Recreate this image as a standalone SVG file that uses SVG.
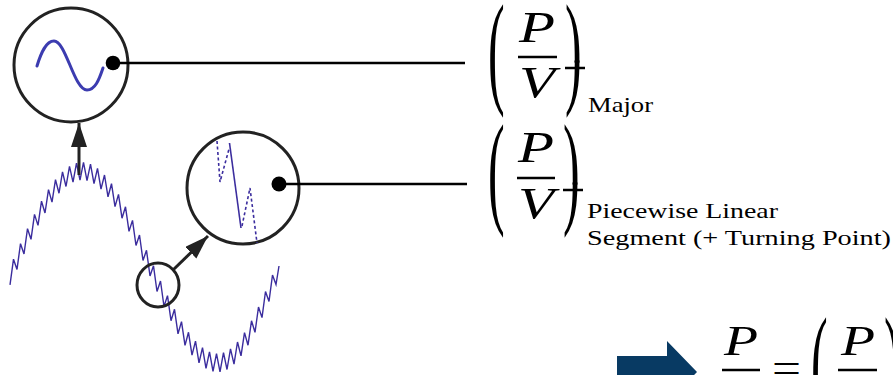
<svg xmlns="http://www.w3.org/2000/svg" width="893" height="375" viewBox="0 0 893 375">
<style>
.ring{fill:none;stroke:#222;stroke-width:3}
.dot{fill:#000}
.conn{stroke:#000;stroke-width:2.5;fill:none}
.arr{stroke:#222;stroke-width:3;fill:none}
.m{fill:#000}
.it{font-style:italic}
.bar{stroke:#000;stroke-width:2.5}
.wave{fill:none;stroke:#3b2d9e;stroke-width:1.4;stroke-linejoin:miter}
.dash{fill:none;stroke:#3b2d9e;stroke-width:1.6;stroke-dasharray:3 2.5}
</style>
<defs>
<marker id="ah" markerUnits="userSpaceOnUse" markerWidth="26" markerHeight="18" refX="24" refY="8" orient="auto">
<path d="M0,0 L24,8 L0,16 z" fill="#222"/>
</marker>
</defs>
<g id="signal">
<polyline class="wave" points="10,284.9 13.5,259.2 17,269.4 20.5,243.7 24,254 27.5,228.7 31,239.3 34.5,214.4 38,225.4 41.5,201.2 45,213 48.5,189.6 52,202.1 55.5,179.7 59,193.2 62.5,171.9 66,186.5 69.5,166.3 73,182.1 76.5,163.1 80,180.1 83.5,162.4 87,180.6 90.5,164.2 94,183.7 97.5,168.4 101,189.1 104.5,175 108,196.8 111.5,183.7 115,206.6 118.5,194.4 122,218.2 125.5,206.8 129,231.3 132.5,220.4 136,245.5 139.5,235 143,260.5 146.5,250.3 150,276 153.5,265.8 157,291.5 160.5,281 164,306.5 167.5,295.6 171,320.7 174.5,309.3 178,333.8 181.5,321.6 185,345.4 188.5,332.3 192,355.2 195.5,341.1 199,362.9 202.5,347.6 206,368.3 209.5,351.9 213,371.4 216.5,353.7 220,371.9 223.5,352.7 227,369.5 230.5,348.8 234,364.1 237.5,342 241,355.9 244.5,332.6 248,345.2 251.5,320.8 255,332.3 258.5,307 262,317.6 265.5,291.5 269,301.4 272.5,275 276,284.6 279,266"/>
</g>
<g id="node-major">
<circle class="ring" cx="71" cy="65" r="57"/>
<path d="M37,66 C41,53 46,41 54,41 C66,41 74,90 87,90 C95,90 99,80 103,68" fill="none" stroke="#3c3cb0" stroke-width="3" stroke-linecap="round"/>
<circle class="dot" cx="113" cy="63" r="7.3"/>
</g>
<g id="node-inset">
<circle class="ring" cx="243" cy="188" r="56"/>
<polyline class="dash" points="217,141 220,182 229,149"/>
<line x1="229.5" y1="143" x2="241" y2="228" stroke="#3b2d9e" stroke-width="1.6"/>
<polyline class="dash" points="242,226 250,188 257,243"/>
<circle class="dot" cx="279" cy="184" r="7.5"/>
</g>
<g id="node-zoom">
<ellipse class="ring" cx="158" cy="285" rx="21" ry="22"/>
</g>
<g id="connectors">
<line class="conn" x1="113" y1="63" x2="465" y2="63"/>
<line class="conn" x1="279" y1="184" x2="467" y2="184"/>
<line class="arr" x1="79" y1="175" x2="79" y2="123" marker-end="url(#ah)"/>
<line class="arr" x1="173" y1="270" x2="208" y2="236" marker-end="url(#ah)"/>
</g>
<g id="formula-major" font-family="Liberation Serif, serif">
<text class="m" transform="translate(488,91) scale(0.4,1)" font-size="125">(</text>
<text class="m it" x="519" y="42" font-size="44" textLength="36" lengthAdjust="spacingAndGlyphs">P</text>
<line class="bar" x1="518" y1="57" x2="557" y2="57"/>
<text class="m it" x="519" y="97" font-size="44" textLength="36" lengthAdjust="spacingAndGlyphs">V</text>
<line class="bar" x1="565" y1="68" x2="585" y2="68"/>
<circle class="dot" cx="577" cy="61.5" r="2.5"/>
<text class="m" transform="translate(565,91) scale(0.4,1)" font-size="125">)</text>
<text class="m" x="588" y="112" font-size="21" textLength="65" lengthAdjust="spacingAndGlyphs">Major</text>
</g>
<g id="formula-pwl" font-family="Liberation Serif, serif">
<text class="m" transform="translate(488,211) scale(0.4,1)" font-size="125">(</text>
<text class="m it" x="518" y="162" font-size="44" textLength="36" lengthAdjust="spacingAndGlyphs">P</text>
<line class="bar" x1="517" y1="178" x2="555" y2="178"/>
<text class="m it" x="518" y="218" font-size="44" textLength="36" lengthAdjust="spacingAndGlyphs">V</text>
<line class="bar" x1="563" y1="190" x2="583" y2="190"/>
<circle class="dot" cx="575" cy="183.5" r="2.5"/>
<text class="m" transform="translate(563,211) scale(0.4,1)" font-size="125">)</text>
<text class="m" x="587" y="218" font-size="21" textLength="191" lengthAdjust="spacingAndGlyphs">Piecewise Linear</text>
<text class="m" x="587" y="245" font-size="21" textLength="304" lengthAdjust="spacingAndGlyphs">Segment (+ Turning Point)</text>
</g>
<g id="formula-result" font-family="Liberation Serif, serif">
<polygon points="617,356 667,356 667,341 697,372 667,403 667,388 617,388" fill="#083a63"/>
<text class="m it" x="724" y="355" font-size="42" textLength="34" lengthAdjust="spacingAndGlyphs">P</text>
<line class="bar" x1="722" y1="370" x2="760" y2="370"/>
<text class="m" x="772" y="382" font-size="42" textLength="29" lengthAdjust="spacingAndGlyphs">=</text>
<text class="m" transform="translate(811,404) scale(0.4,1)" font-size="125">(</text>
<text class="m it" x="841" y="355" font-size="42" textLength="34" lengthAdjust="spacingAndGlyphs">P</text>
<line class="bar" x1="838" y1="370" x2="877" y2="370"/>
<text class="m" transform="translate(884,404) scale(0.4,1)" font-size="125">)</text>
</g>
</svg>
